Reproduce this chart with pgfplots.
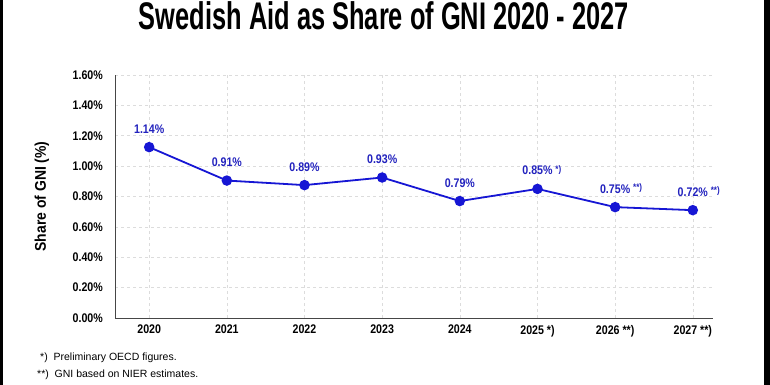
\documentclass[border=0pt]{standalone}
\usepackage{fontspec}
\setmainfont{Liberation Sans}
\newfontfamily\titlefont[FakeStretch=0.66]{Liberation Sans}
\newfontfamily\tickfont[FakeStretch=0.85]{Liberation Sans}
\newfontfamily\labfont[FakeStretch=0.9]{Liberation Sans}
\usepackage{pgfplots}
\pgfplotsset{compat=1.18}
\definecolor{lineblue}{RGB}{22,22,212}
\definecolor{labblue}{RGB}{34,34,190}
\definecolor{gridgray}{RGB}{220,220,220}
\definecolor{axgray}{RGB}{70,70,70}
\begin{document}
\begin{tikzpicture}[x=1pt,y=1pt]
\fill[white] (0,0) rectangle (770,385);
\begin{axis}[
  at={(115pt,67pt)}, anchor=south west,
  scale only axis, width=598pt, height=243pt,
  xmin=-0.44, xmax=7.26, ymin=0, ymax=1.6,
  axis x line*=bottom, axis y line*=left,
  axis line style={axgray, line width=0.9pt},
  x axis line style={-}, y axis line style={-},
  xtick={0,...,7},
  xticklabels={2020,2021,2022,2023,2024,{2025 *)},{2026 **)},{2027 **)}},
  ytick={0,0.2,...,1.6},
  yticklabel={\pgfmathprintnumber[fixed,fixed zerofill,precision=2,assume math mode=true]{\tick}\%},
  major tick length=0pt,
  tick label style={font=\tickfont\bfseries\fontsize{12.5}{14}\selectfont, inner sep=0pt},
  yticklabel style={anchor=east, xshift=-12pt},
  xticklabel style={anchor=north, yshift=-7pt},
  grid=major,
  major grid style={gridgray, dash pattern=on 3pt off 3pt, line width=0.6pt},
  ylabel={Share of GNI (\%)},
  ylabel style={at={(axis description cs:-0.1224,0.5)}, anchor=center, font=\labfont\bfseries\fontsize{15.5}{17}\selectfont},
  clip=false,
]
\addplot[lineblue, line width=1.8pt, mark=*, mark size=4.3pt,
  mark options={fill=lineblue, draw=lineblue},
  nodes near coords, point meta=explicit symbolic,
  every node near coord/.style={font=\tickfont\bfseries\fontsize{12.5}{14}\selectfont, text=labblue, anchor=south, inner sep=0pt, yshift=13pt}]
coordinates {
  (0,1.125) [1.14\%]
  (1,0.905) [0.91\%]
  (2,0.875) [0.89\%]
  (3,0.925) [0.93\%]
  (4,0.770) [0.79\%]
  (5,0.850) [0.85\%\rlap{\ \raisebox{2.5pt}{\fontsize{9.5}{10}\selectfont *)}}]
  (6,0.730) [0.75\%\rlap{\ \raisebox{2.5pt}{\fontsize{9.5}{10}\selectfont **)}}]
  (7,0.710) [0.72\%\rlap{\ \raisebox{2.5pt}{\fontsize{9.5}{10}\selectfont **)}}]
};
\end{axis}
\node[anchor=base, inner sep=0pt] at (384,355) {\titlefont\bfseries\fontsize{38.5}{42}\selectfont Swedish Aid as Share of GNI 2020 - 2027};
\node[anchor=base west, inner sep=0pt] at (40,24) {\fontsize{10.5}{12}\selectfont *)\ \ Preliminary OECD figures.};
\node[anchor=base west, inner sep=0pt] at (37,7) {\fontsize{10.5}{12}\selectfont **)\ \ GNI based on NIER estimates.};
\fill[black] (0,0) rectangle (3,385);
\fill[black] (764,0) rectangle (770,385);
\pgfresetboundingbox
\path (0,0) rectangle (770,385);
\end{tikzpicture}
\end{document}
